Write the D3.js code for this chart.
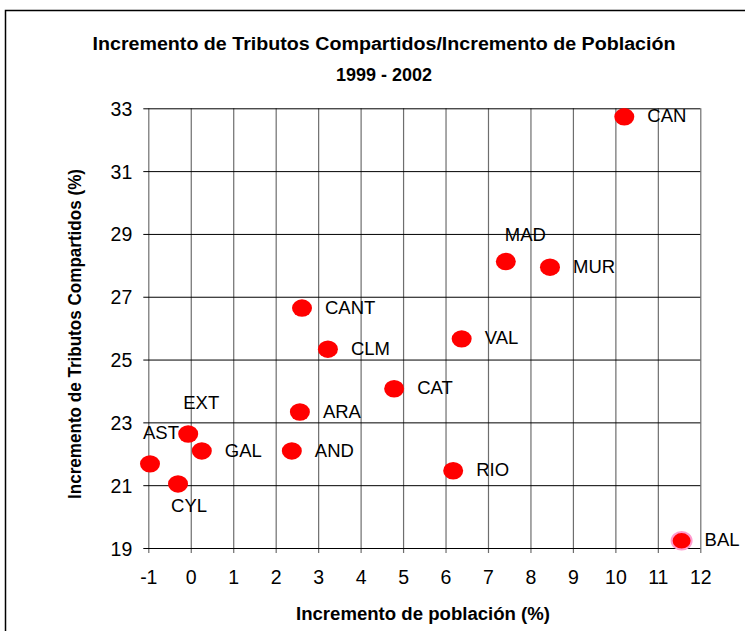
<!DOCTYPE html>
<html>
<head>
<meta charset="utf-8">
<script src="https://cdn.jsdelivr.net/npm/d3@7"></script>
<style>
  body { margin: 0; background: #fff; }
  svg { display: block; font-family: "Liberation Sans", Arial, sans-serif; }
</style>
</head>
<body>
<div id="chart"></div>
<script>
// Comunidades autónomas
var regions = ["CAN", "MAD", "MUR", "CANT", "VAL", "CLM", "CAT", "ARA", "EXT", "AST", "GAL", "AND", "CYL", "RIO", "BAL"];
// Incremento de población (%)
var poblacion = [10.21, 7.42, 8.46, 2.62, 6.38, 3.23, 4.79, 2.57, -0.06, -0.96, 0.26, 2.38, -0.30, 6.18, 11.56];
// Incremento de tributos compartidos (%)
var tributos = [32.73, 28.12, 27.94, 26.64, 25.66, 25.33, 24.07, 23.33, 22.63, 21.68, 22.09, 22.09, 21.04, 21.46, 19.23];

var xTicks = [-1, 0, 1, 2, 3, 4, 5, 6, 7, 8, 9, 10, 11, 12];
var yTicks = [19, 21, 23, 25, 27, 29, 31, 33];

var titleLines = ["Incremento de Tributos Compartidos/Incremento de Población", "1999 - 2002"];
var xTitle = "Incremento de población (%)";
var yTitle = "Incremento de Tributos Compartidos (%)";

(function() {
    var fullWidth = 745, fullHeight = 631;
    var margins = {left: 148.3, top: 108.3, right: 44.7, bottom: 83};
    var width = fullWidth - margins.left - margins.right;
    var height = fullHeight - margins.top - margins.bottom;

    var data = regions.map(function(r, i) {
        return {name: r, x: poblacion[i], y: tributos[i]};
    });

    var svg = d3.select("#chart").append("svg")
        .attr("width", fullWidth)
        .attr("height", fullHeight);

    // outer chart frame (only left/top visible in the crop)
    svg.append("rect")
        .attr("x", 5.5).attr("y", 10.5)
        .attr("width", 800).attr("height", 700)
        .attr("fill", "none")
        .attr("stroke", "#000")
        .attr("stroke-width", 1.5);

    var xScale = d3.scaleLinear().domain([-1, 12]).range([0, width]);
    var yScale = d3.scaleLinear().domain([19, 33]).range([height, 0]);

    var g = svg.append("g")
        .attr("transform", "translate(" + margins.left + "," + margins.top + ")");

    // vertical grid + ticks
    var xAxis = d3.axisBottom(xScale)
        .tickValues(xTicks)
        .tickSize(-height - 5)
        .tickPadding(12)
        .tickFormat(d3.format("d"));

    var gx = g.append("g")
        .attr("transform", "translate(0," + (height + 5) + ")")
        .call(xAxis);
    gx.select(".domain").remove();
    gx.selectAll(".tick line").attr("stroke", "#6e6e6e").attr("stroke-width", 1.2);
    gx.selectAll(".tick text")
        .attr("fill", "#000")
        .style("font-size", "19.5px")
        .attr("dy", "0.95em")
        .text(function(d) { return d < 0 ? "-" + Math.abs(d) : d; });

    // horizontal grid + ticks
    var yAxis = d3.axisLeft(yScale)
        .tickValues(yTicks)
        .tickSize(-width - 5)
        .tickPadding(11);

    var gy = g.append("g")
        .attr("transform", "translate(-5,0)")
        .call(yAxis);
    gy.select(".domain").remove();
    gy.selectAll(".tick line").attr("stroke", "#000").attr("stroke-width", 1);
    gy.selectAll(".tick text")
        .attr("fill", "#000")
        .style("font-size", "19.5px")
        .attr("dy", "0.36em");

    // points
    g.selectAll(".punto")
        .data(data)
        .enter()
        .append("ellipse")
        .attr("class", "punto")
        .attr("cx", function(d) { return xScale(d.x); })
        .attr("cy", function(d) { return yScale(d.y); })
        .attr("rx", 10)
        .attr("ry", 8.7)
        .attr("fill", "#ff0000")
        .attr("stroke", function(d) { return d.name === "BAL" ? "#ff9ccf" : "none"; })
        .attr("stroke-width", 2);

    // label placement: default to the right of the point
    var labelOffset = function(name) {
        if (name === "MAD") return [-1, -27];
        if (name === "EXT") return [-5, -32];
        if (name === "AST") return [-7, -31];
        if (name === "CYL") return [-7, 21];
        return [23, -1];
    };

    g.selectAll(".etiqueta")
        .data(data)
        .enter()
        .append("text")
        .attr("class", "etiqueta")
        .attr("x", function(d) { return xScale(d.x) + labelOffset(d.name)[0]; })
        .attr("y", function(d) { return yScale(d.y) + labelOffset(d.name)[1]; })
        .attr("dy", "0.36em")
        .style("font-size", "18.5px")
        .text(function(d) { return d.name; });

    // titles
    svg.selectAll(".titulo")
        .data(titleLines)
        .enter()
        .append("text")
        .attr("class", "titulo")
        .attr("x", 384)
        .attr("y", function(d, i) { return 50 + i * 31; })
        .attr("text-anchor", "middle")
        .style("font-size", "18px")
        .style("font-weight", "bold")
        .attr("textLength", function(d, i) { return i === 0 ? 583 : 96; })
        .attr("lengthAdjust", "spacingAndGlyphs")
        .text(function(d) { return d; });

    svg.append("text")
        .attr("x", 423)
        .attr("y", 620)
        .attr("text-anchor", "middle")
        .style("font-size", "17.5px")
        .style("font-weight", "bold")
        .attr("textLength", 254)
        .attr("lengthAdjust", "spacingAndGlyphs")
        .text(xTitle);

    svg.append("text")
        .attr("transform", "translate(81,334) rotate(-90)")
        .attr("text-anchor", "middle")
        .style("font-size", "17.5px")
        .style("font-weight", "bold")
        .attr("textLength", 330)
        .attr("lengthAdjust", "spacingAndGlyphs")
        .text(yTitle);
}());
</script>
</body>
</html>
